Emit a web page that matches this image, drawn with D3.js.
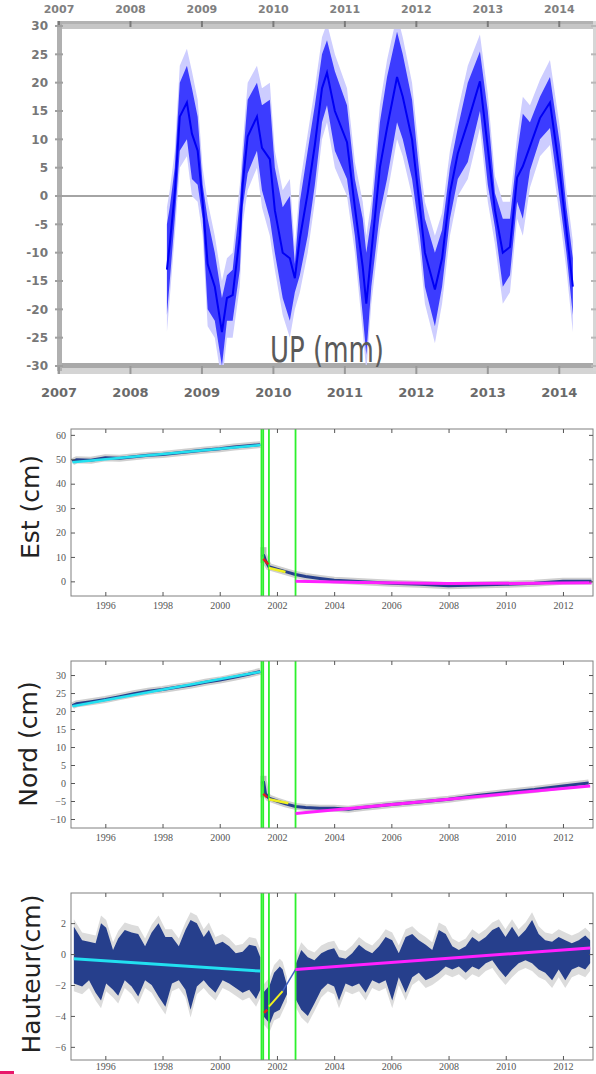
<!DOCTYPE html>
<html>
<head>
<meta charset="utf-8">
<script src="https://cdn.jsdelivr.net/npm/d3@7"></script>
<style>
  body { margin: 0; background: #fff; }
  svg { display: block; }
</style>
</head>
<body>
<div id="chart"></div>
<script>
'use strict'

// ---- UP (mm) series, 2008.5 - 2014.2 ----
const upYears = [
  2008.51, 2008.55, 2008.62, 2008.69, 2008.79, 2008.86, 2008.94, 2009.01, 2009.08, 2009.18,
  2009.28, 2009.35, 2009.43, 2009.53, 2009.57, 2009.64, 2009.77, 2009.84, 2009.95, 2010.02,
  2010.13, 2010.23, 2010.30, 2010.37, 2010.48, 2010.58, 2010.68, 2010.75, 2010.86, 2011.03,
  2011.14, 2011.25, 2011.30, 2011.37, 2011.49, 2011.59, 2011.73, 2011.81, 2011.94, 2012.05,
  2012.12, 2012.26, 2012.36, 2012.47, 2012.58, 2012.72, 2012.89, 2013.00, 2013.10, 2013.21,
  2013.31, 2013.41, 2013.49, 2013.59, 2013.73, 2013.87, 2014.01, 2014.10, 2014.19]
const upHi = [
  -5, -2, 5, 20, 23, 19, 14, 2, -4, -10,
  -18, -14, -13, -1, 6, 17, 20, 16, 17, 5,
  -2, 0, -12, -1, 8, 16, 25, 27.5, 22, 16,
  3, -4, -10, -4, 13, 21, 29, 25, 17, 3,
  -4, -10, -6, 5, 12, 20, 25.5, 15, 0.5, -4,
  -4, 7.5, 14.5, 13, 17.5, 21, 9, -2, -11]
const upLo = [
  -21, -15, -4, 8, 10, 3, 2, -4, -20, -22,
  -30, -22, -22, -13, -2, 4, 8, 1, -4, -10,
  -18, -22, -17, -14, -7, 2, 13, 16, 8, 3,
  -7, -21, -28, -16, -3, 3, 13, 10, 3, -7,
  -16, -23, -16, -4, 3, 6, 15, 2, -5.5, -16,
  -14, -1, -4, 4.5, 10, 12, -1, -10, -21]
const upErr = 3
const upYearTicks = [2007, 2008, 2009, 2010, 2011, 2012, 2013, 2014]
const upValueTicks = [-30, -25, -20, -15, -10, -5, 0, 5, 10, 15, 20, 25, 30]

// ---- GPS panels, 1995 - 2013 ----
const gpsYearTicks = [1996, 1998, 2000, 2002, 2004, 2006, 2008, 2010, 2012]
const eventYears = [2001.46, 2001.52, 2001.72, 2002.65]

const preYears = [1994.85, 1995.0, 1995.5, 1996.0, 1996.5, 1997.0, 1997.5, 1998.0, 1998.5, 1999.0, 1999.5, 2000.0, 2000.5, 2001.0, 2001.42]

const estPre = [49, 49.8, 49.6, 50.6, 50.4, 51.0, 51.6, 52.0, 52.6, 53.2, 53.8, 54.3, 55.0, 55.5, 56.0]
const estPostYears = [2001.53, 2001.6, 2001.72, 2002.0, 2002.3, 2002.65, 2003.0, 2003.5, 2004.0, 2005.0, 2006.0, 2007.0, 2008.0, 2009.0, 2010.0, 2011.0, 2012.0, 2013.0]
const estPost = [11, 8.5, 6, 5, 4, 2.8, 2, 1.2, 0.5, -0.2, -0.8, -1.2, -1.8, -1.5, -1.2, -0.8, 0, 0]
const estFitCyan = [[1994.85, 48.8], [2001.42, 55.8]]
const estFitRed = [[2001.52, 9.2], [2001.7, 7]]
const estFitYellow = [[2001.72, 5.5], [2002.3, 3.8]]
const estFitMagenta = [[2002.65, 0], [2005, -0.5], [2008, -0.9], [2011, -0.8], [2013, -0.6]]
const estJumpErr = [7.5, 14]
const estTicks = [0, 10, 20, 30, 40, 50, 60]

const nordPre = [21.5, 22, 22.6, 23.2, 24, 24.8, 25.5, 26, 26.6, 27.2, 28, 28.6, 29.4, 30.2, 31]
const nordPostYears = [2001.53, 2001.6, 2001.72, 2002.0, 2002.3, 2002.65, 2003.0, 2003.5, 2004.0, 2004.5, 2005.0, 2006.0, 2007.0, 2008.0, 2009.0, 2010.0, 2011.0, 2012.0, 2012.9]
const nordPost = [0.5, -3, -4.2, -5, -5.8, -6.5, -6.8, -7, -7, -7.3, -6.8, -6, -5.3, -4.5, -3.5, -2.6, -1.8, -0.8, 0]
const nordFitCyan = [[1994.85, 21.3], [2001.42, 30.9]]
const nordFitRed = [[2001.52, -3], [2001.66, -4]]
const nordFitYellow = [[2001.72, -4.5], [2002.4, -5.6]]
const nordFitMagenta = [[2002.65, -8.5], [2012.95, -0.8]]
const nordJumpErr = [-4, 2]
const nordTicks = [-10, -5, 0, 5, 10, 15, 20, 25, 30]

const hautYearsA = [1994.9, 1995.19, 1995.43, 1995.66, 1995.85, 1996.03, 1996.27, 1996.45, 1996.68, 1996.92,
  1997.15, 1997.39, 1997.62, 1997.86, 1998.1, 1998.33, 1998.57, 1998.8, 1998.98, 1999.2,
  1999.44, 1999.62, 1999.85, 2000.1, 2000.33, 2000.56, 2000.8, 2001.03, 2001.27, 2001.42]
const hautHiA = [1.76, 0.9, 0.8, 0.7, 2.0, 1.7, 0.26, 1.0, 1.55, 1.4,
  1.3, 0.5, 1.4, 2.0, 1.1, 1.1, 0.5, 1.55, 2.2, 2.0,
  1.1, 1.55, 0.6, 0.8, 0.5, 0.05, 0.15, 0.6, 0.5, -0.2]
const hautLoA = [-1.9, -2.1, -1.7, -2.5, -3.0, -1.9, -2.3, -2.7, -1.7, -2.1,
  -2.75, -1.7, -2.0, -2.75, -3.4, -1.9, -1.7, -2.3, -3.6, -2.1,
  -1.7, -2.1, -2.5, -1.7, -1.9, -2.2, -2.5, -2.3, -2.9, -2.3]
const hautYearsB = [2001.52, 2001.75, 2001.9, 2002.1, 2002.2, 2002.35]
const hautHiB = [-2.5, -2.0, -1.2, -0.8, -1.0, -2.0]
const hautLoB = [-4.0, -4.5, -3.8, -3.6, -3.2, -2.6]
const hautYearsC = [2002.67, 2002.85, 2003.08, 2003.31, 2003.55, 2003.78, 2004.0, 2004.17, 2004.4, 2004.63,
  2004.87, 2005.1, 2005.33, 2005.57, 2005.8, 2006.03, 2006.26, 2006.5, 2006.73, 2006.96,
  2007.2, 2007.43, 2007.66, 2007.9, 2008.13, 2008.36, 2008.6, 2008.83, 2009.06, 2009.3,
  2009.53, 2009.76, 2009.99, 2010.22, 2010.45, 2010.69, 2010.92, 2011.15, 2011.38, 2011.62,
  2011.85, 2012.08, 2012.31, 2012.55, 2012.78, 2012.95]
const hautHiC = [-0.6, 0.26, -0.2, -0.4, 0.05, 0.26, 0.37, -0.2, -0.3, 0.05,
  0.6, 0.26, 0.05, 0.5, 1.1, 0.9, 0.05, 1.1, 1.3, 0.9,
  0.6, 0.26, 1.55, 1.3, 0.5, 0.26, 0.5, 1.1, 0.8, 1.1,
  1.55, 1.76, 1.1, 1.76, 1.1, 1.55, 2.2, 1.3, 0.9, 0.8,
  1.1, 0.9, 0.7, 0.9, 1.2, 0.9]
const hautLoC = [-2.97, -3.6, -4.0, -3.2, -2.3, -1.9, -2.1, -3.0, -1.9, -2.1,
  -1.9, -2.5, -1.7, -1.9, -1.7, -3.0, -1.5, -2.5, -1.5, -1.2,
  -1.7, -1.5, -1.2, -0.8, -1.0, -0.8, -1.2, -0.8, -1.0, -0.6,
  -0.4, -1.0, -1.5, -1.0, -0.6, -0.4, -0.6, -1.0, -1.2, -1.7,
  -1.0, -1.7, -1.0, -0.8, -1.0, -0.6]
const hautErr = 0.5
const hautFitCyan = [[1994.9, -0.3], [2001.42, -1.1]]
const hautFitRed = [[2001.55, -3.8], [2001.66, -3.6]]
const hautFitYellow = [[2001.72, -3.4], [2002.2, -2.4]]
const hautFitBlue = [[2002.2, -2.4], [2002.65, -1.0]]
const hautFitMagenta = [[2002.65, -1.0], [2012.95, 0.4]]
const hautTicks = [-6, -4, -2, 0, 2]

const navy = '#263f8c'

const svg = d3.select('#chart')
  .append('svg')
  .attr('width', 596)
  .attr('height', 1074)

svg.append('rect').attr('width', 596).attr('height', 1074).attr('fill', '#fff')

// ================= top panel : UP (mm) =================
const xUp = d3.scaleLinear().domain([2007, 2014.5]).range([59, 595])
const yUp = d3.scaleLinear().domain([-30, 30]).range([366, 26])

// grey frame bands
svg.append('rect').attr('x', 57).attr('y', 21).attr('width', 539).attr('height', 8).attr('fill', '#c6c6c6')
svg.append('rect').attr('x', 57).attr('y', 21).attr('width', 539).attr('height', 3).attr('fill', '#b2b2b2')
svg.append('rect').attr('x', 57).attr('y', 363).attr('width', 539).attr('height', 5).attr('fill', '#a9a9a9')
svg.append('rect').attr('x', 57).attr('y', 368).attr('width', 539).attr('height', 6).attr('fill', '#d4d4d4')
svg.append('rect').attr('x', 57).attr('y', 21).attr('width', 5).attr('height', 350).attr('fill', '#b0b0b0')
svg.append('rect').attr('x', 593).attr('y', 21).attr('width', 3).attr('height', 350).attr('fill', '#d6d6d6')

// zero line
svg.append('line')
  .attr('x1', 62).attr('x2', 593)
  .attr('y1', yUp(0)).attr('y2', yUp(0))
  .attr('stroke', '#a4a4a4')
  .attr('stroke-width', 2)

// ticks
svg.selectAll('up-top-tick')
  .data(upYearTicks)
  .enter()
  .append('line')
  .attr('x1', d => xUp(d)).attr('x2', d => xUp(d))
  .attr('y1', 21).attr('y2', 27)
  .attr('stroke', '#7a7a7a').attr('stroke-width', 2)
svg.selectAll('up-bottom-tick')
  .data(upYearTicks)
  .enter()
  .append('line')
  .attr('x1', d => xUp(d)).attr('x2', d => xUp(d))
  .attr('y1', 366).attr('y2', 374)
  .attr('stroke', '#999').attr('stroke-width', 2)
svg.selectAll('up-left-tick')
  .data(upValueTicks)
  .enter()
  .append('line')
  .attr('x1', 55).attr('x2', 63)
  .attr('y1', d => yUp(d)).attr('y2', d => yUp(d))
  .attr('stroke', '#a0a0a0').attr('stroke-width', 2)
svg.selectAll('up-right-tick')
  .data(upValueTicks)
  .enter()
  .append('line')
  .attr('x1', 591).attr('x2', 596)
  .attr('y1', d => yUp(d)).attr('y2', d => yUp(d))
  .attr('stroke', '#b8b8b8').attr('stroke-width', 2)

// tick labels
svg.selectAll('up-left-label')
  .data(upValueTicks)
  .enter()
  .append('text')
  .attr('x', 48)
  .attr('y', d => yUp(d))
  .attr('dy', '0.36em')
  .attr('text-anchor', 'end')
  .style('font', 'bold 12px "DejaVu Sans"')
  .style('fill', '#777')
  .text(d => d)
svg.selectAll('up-bottom-label')
  .data(upYearTicks)
  .enter()
  .append('text')
  .attr('x', d => xUp(d))
  .attr('y', 397)
  .attr('text-anchor', 'middle')
  .style('font', 'bold 13px "DejaVu Sans"')
  .style('fill', '#6a6a6a')
  .text(d => d)
svg.selectAll('up-top-label')
  .data(upYearTicks)
  .enter()
  .append('text')
  .attr('x', d => xUp(d))
  .attr('y', 13)
  .attr('text-anchor', 'middle')
  .style('font', 'bold 11px "DejaVu Sans"')
  .style('fill', '#808080')
  .text(d => d)

// data
svg.append('clipPath').attr('id', 'clip-up')
  .append('rect').attr('x', 62).attr('y', 29).attr('width', 531).attr('height', 336)
const upIdx = d3.range(upYears.length)
const upG = svg.append('g').attr('clip-path', 'url(#clip-up)')
upG.append('path')
  .attr('d', d3.area().x(i => xUp(upYears[i])).y0(i => yUp(upLo[i] - upErr)).y1(i => yUp(upHi[i] + upErr))(upIdx))
  .attr('fill', '#cdcdff')
upG.append('path')
  .attr('d', d3.area().x(i => xUp(upYears[i])).y0(i => yUp(upLo[i])).y1(i => yUp(upHi[i]))(upIdx))
  .attr('fill', '#3c3cff')
upG.append('path')
  .attr('d', d3.line().x(i => xUp(upYears[i])).y(i => yUp((upLo[i] + upHi[i]) / 2))(upIdx))
  .attr('fill', 'none')
  .attr('stroke', '#0000f5')
  .attr('stroke-width', 2)

svg.append('text')
  .attr('x', 327)
  .attr('y', 362)
  .attr('text-anchor', 'middle')
  .attr('textLength', 114)
  .attr('lengthAdjust', 'spacingAndGlyphs')
  .style('font', '36px "DejaVu Sans"')
  .style('fill', '#5a5a5a')
  .text('UP (mm)')

// ================= GPS panels =================
const xGps = d3.scaleLinear().domain([1994.8, 2013.05]).range([71, 593])

function drawPanel (p) {
  const y = d3.scaleLinear().domain(p.yDomain).range([p.bottom, p.top])
  const g = svg.append('g')
  const line = d3.line().x(d => xGps(d[0])).y(d => y(d[1]))

  g.append('clipPath').attr('id', 'clip-' + p.id)
    .append('rect').attr('x', 71).attr('y', p.top).attr('width', 522).attr('height', p.bottom - p.top)
  const data = g.append('g').attr('clip-path', `url(#clip-${p.id})`)

  p.draw(data, y, line)

  // event lines
  data.selectAll('event')
    .data(eventYears)
    .enter()
    .append('line')
    .attr('x1', d => xGps(d)).attr('x2', d => xGps(d))
    .attr('y1', p.top).attr('y2', p.bottom)
    .attr('stroke', '#2cf02c')
    .attr('stroke-width', 1.8)

  p.fits.forEach(f => {
    data.append('path')
      .attr('d', line(f.pts))
      .attr('fill', 'none')
      .attr('stroke', f.color)
      .attr('stroke-width', f.w || 2.5)
  })

  // frame
  g.append('rect')
    .attr('x', 71).attr('y', p.top)
    .attr('width', 522).attr('height', p.bottom - p.top)
    .attr('fill', 'none')
    .attr('stroke', '#808080')

  const axes = [
    { a: d3.axisBottom(xGps).tickValues(gpsYearTicks).tickFormat(d3.format('d')).tickPadding(p.xPad), t: `translate(0,${p.bottom})` },
    { a: d3.axisTop(xGps).tickValues(gpsYearTicks).tickFormat(''), t: `translate(0,${p.top})` },
    { a: d3.axisLeft(y).tickValues(p.ticks).tickPadding(5), t: 'translate(71,0)' },
    { a: d3.axisRight(y).tickValues(p.ticks).tickFormat(''), t: 'translate(593,0)' }
  ]
  axes.forEach(ax => {
    const ag = g.append('g')
      .attr('transform', ax.t)
      .call(ax.a.tickSizeInner(-4).tickSizeOuter(0))
    ag.select('.domain').remove()
    ag.selectAll('line').attr('stroke', '#555')
    ag.selectAll('text')
      .style('font-family', '"Liberation Serif", serif')
      .style('font-size', '10px')
      .style('fill', '#555')
  })

  g.append('text')
    .attr('transform', `translate(${p.labelX}, ${p.labelY}) rotate(-90)`)
    .attr('text-anchor', 'middle')
    .style('font', '25px "DejaVu Sans"')
    .style('fill', '#222')
    .text(p.label)
}

function drawDots (sel, line, years, vals) {
  const pts = d3.zip(years, vals)
  sel.append('path').attr('d', line(pts))
    .attr('fill', 'none').attr('stroke', '#cfcfcf').attr('stroke-width', 7)
  sel.append('path').attr('d', line(pts))
    .attr('fill', 'none').attr('stroke', navy).attr('stroke-width', 3)
}

function drawJumpErr (sel, y, year, err) {
  sel.append('line')
    .attr('x1', xGps(year)).attr('x2', xGps(year))
    .attr('y1', y(err[0])).attr('y2', y(err[1]))
    .attr('stroke', '#bdbdbd').attr('stroke-width', 6)
}

drawPanel({
  id: 'est',
  top: 429,
  bottom: 596,
  xPad: 6,
  yDomain: [-6, 62.4],
  ticks: estTicks,
  label: 'Est (cm)',
  labelX: 39,
  labelY: 507,
  draw: (sel, y, line) => {
    drawJumpErr(sel, y, estPostYears[0], estJumpErr)
    drawDots(sel, line, preYears, estPre)
    drawDots(sel, line, estPostYears, estPost)
  },
  fits: [
    { pts: estFitCyan, color: '#22e0f0' },
    { pts: estFitRed, color: '#e02020' },
    { pts: estFitYellow, color: '#f0f020' },
    { pts: estFitMagenta, color: '#ff20ff', w: 3 }
  ]
})

drawPanel({
  id: 'nord',
  top: 661,
  bottom: 828,
  xPad: 6,
  yDomain: [-12.5, 33.9],
  ticks: nordTicks,
  label: 'Nord (cm)',
  labelX: 37,
  labelY: 744,
  draw: (sel, y, line) => {
    drawJumpErr(sel, y, nordPostYears[0], nordJumpErr)
    drawDots(sel, line, preYears, nordPre)
    drawDots(sel, line, nordPostYears, nordPost)
  },
  fits: [
    { pts: nordFitCyan, color: '#22e0f0' },
    { pts: nordFitRed, color: '#e02020' },
    { pts: nordFitYellow, color: '#f0f020' },
    { pts: nordFitMagenta, color: '#ff20ff', w: 3 }
  ]
})

drawPanel({
  id: 'haut',
  top: 893,
  bottom: 1060,
  xPad: 3,
  yDomain: [-6.85, 3.95],
  ticks: hautTicks,
  label: 'Hauteur(cm)',
  labelX: 40,
  labelY: 974,
  draw: (sel, y, line) => {
    const parts = [[hautYearsA, hautLoA, hautHiA], [hautYearsB, hautLoB, hautHiB], [hautYearsC, hautLoC, hautHiC]]
    parts.forEach(([yrs, lo, hi]) => {
      const idx = d3.range(yrs.length)
      sel.append('path')
        .attr('d', d3.area().x(i => xGps(yrs[i])).y0(i => y(lo[i] - hautErr)).y1(i => y(hi[i] + hautErr))(idx))
        .attr('fill', '#dcdcdc')
    })
    parts.forEach(([yrs, lo, hi]) => {
      const idx = d3.range(yrs.length)
      sel.append('path')
        .attr('d', d3.area().x(i => xGps(yrs[i])).y0(i => y(lo[i])).y1(i => y(hi[i]))(idx))
        .attr('fill', navy)
    })
  },
  fits: [
    { pts: hautFitCyan, color: '#22e0f0', w: 3 },
    { pts: hautFitRed, color: '#e02020' },
    { pts: hautFitYellow, color: '#f0f020', w: 2 },
    { pts: hautFitBlue, color: '#4060c0', w: 1.5 },
    { pts: hautFitMagenta, color: '#ff20ff', w: 3 }
  ]
})

// small magenta mark at the bottom-left corner
svg.append('rect').attr('x', 0).attr('y', 1071).attr('width', 14).attr('height', 3).attr('fill', '#e8186a')
</script>
</body>
</html>
